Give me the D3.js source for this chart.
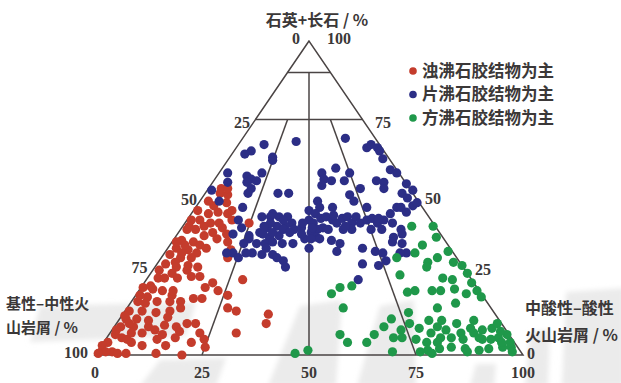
<!DOCTYPE html>
<html>
<head>
<meta charset="utf-8">
<script src="https://cdn.jsdelivr.net/npm/d3@7"></script>
<style>
  html, body { margin: 0; padding: 0; background: #ffffff; }
  svg { display: block; }
</style>
</head>
<body>
<svg id="chart" width="621" height="383"></svg>
<script>
// Each sample: [石英+长石 %, 中酸性-酸性火山岩屑 %]; 基性-中性火山岩屑 % = 100 - both.
const laumontiteSamples = [
  [51.5,3.5],[48.5,6.5],[45,4],[45.5,6],[45,8.5],[46,9],[46,1],[43,1],[43,3],[42,6],[40.5,9.5],[40,3.5],[40,1.5],
  [38,6.5],[36.5,2],[36,5],[35,7],[37,10],[34,2],[33.5,5],[32.5,7.5],[34,9],[32,1.5],[31,4.5],[31,7],[29,2],[28,5],
  [27,1.5],[26,5],[27,8],[28,10],[24.5,2.5],[24.5,4],[24.5,7],[25,10],[25,12],[21.5,15],[20.5,18.5],[24,22.5],
  [19,21.5],[15,23.5],[14,26],[7,29.5],[21.5,0.5],[21,3],[20.5,5.5],[19,8.5],[18.5,3],[17,1.5],[17,6],[17,9],
  [17,11.5],[18,14],[18,16],[14,1],[14,4],[13.5,7.5],[14,10.5],[15,12.5],[12,11],[11.5,1.5],[11.5,4],[10,16.5],
  [10,18.5],[9,1.5],[9,4.5],[9,8],[7,21],[6.5,12.5],[5.5,16],[5,12],[5.5,3.5],[6.5,1.5],[4,6.5],[3,9.5],[4,20.5],
  [2.5,24.5],[4,1],[1.5,1],[1,3.5],[3,15],[0.5,14],[0.5,7],[49,2],[41,1.5],[42,8],[36,1],[32.5,4],[38.5,11.5],
  [36,13],[33.5,15],[31,15.5],[42,15],[51,5.5],[53,3],[53,4.5],[43,10.5],[3,0.2],[1,2],[0.5,0.5],[5,5],[8,1],
  [12.5,0.7],[10,3],[7,5],[7,7.5],[8,10],[9,14.5],[5,23],[16.5,3.5],[19,1],[20.5,8],[23,16],[0.5,5],[0,20.3],
  [13,34],[10,35],[47.5,4],[41,5],[39,8],[35,3.5],[29.5,4],[11,7],[9.5,11.5],[7.5,16],[22,2],[28.5,7.5]
];
const heulanditeSamples = [
  [68,13],[65,4],[64,3],[67,6],[63,10],[62,10.5],[58,10],[58,2],[55,3.5],[57,7],[56,8.5],[55.5,10],[55,8],[53,10],
  [51.5,17],[51.5,19.5],[47,11],[44,17],[45,19],[44,19],[44,21],[44,23],[42,25],[41,24],[41,22],[40.5,20],[39,19],
  [38,17],[37.5,22],[38,24],[40,26.5],[46,27],[49,27.5],[47,29],[45,29],[43,28.5],[40.5,28],[42,30],[43.5,31],
  [44,32],[47,32],[43,34],[40.5,33],[40,32],[39,31],[37,30.5],[37.5,33],[37,34],[40,34.5],[42,35.5],[43.5,36],
  [44,37],[40,38],[42,39],[44,39],[42,41],[43,42],[43.5,43],[42,45],[43,46],[40,44.5],[40,47],[34,45.5],[58,24],
  [59.5,26.5],[56,25.5],[55.5,27.5],[54,26],[55.5,30.5],[58,30.5],[69,24],[51,34],[49,36],[53,35.5],[66,30.5],
  [67,31],[66,33],[65,34],[62.5,36],[59,39.5],[55.5,38],[55,40],[53,41],[58,41.5],[54.5,45.5],[52.5,48],[51.5,46],
  [50,48],[47,47],[47,48],[45.5,50],[47.5,50.5],[48.5,51],[45,46.5],[42,48.5],[40,51.5],[37.5,51],[35.5,54],
  [32.5,56.5],[33,49],[32.5,55],[42,20],[43,22.5],[38.5,20],[39,22],[40,24],[39,26],[35.5,20],[35.5,22],[36,23.5],
  [35.5,26],[35.5,28.5],[32.5,20.5],[32,23],[32,25.5],[30,29],[28,30.5],[42,27.5],[40.5,30.5],[44.5,33.5],[38.5,29],
  [37,32],[36.5,37],[35.5,39.5],[34,33],[33,40],[40,40],[41,38],[47,40],[43.5,44.5],[29,48],[28.5,52],[51.5,10],
  [52.5,1],[49,4.5],[43,12],[40.5,14],[38.5,13],[41,19],[37,17.5],[35.5,17],[32.5,16],[32.5,19],[31,18],[32.5,14.5],
  [31,27],[34,23],[24,49.5],[30,53],[32.5,51],[36,51.5],[38.5,52.5]
];
const analcimeSamples = [
  [41,58.5],[37.5,61],[35,59],[32.5,58.5],[31,55],[25.5,58.5],[29.5,63],[28,63.5],[31,64.5],[33,66],[29.5,69],
  [28.5,71.5],[24.5,69],[24,71.5],[21,73.5],[26,74],[23,76.5],[20.5,79],[18.5,81],[19.5,77],[20,63],[20.5,64.5],
  [20.5,68.5],[20.5,70.5],[16.5,76],[15,72.5],[19.5,45.5],[21.5,46.5],[22,49],[15,50.5],[13.5,66.5],[11.5,63.5],
  [9,63],[6.5,54],[4,57],[4,61.5],[6.5,62],[5.5,67],[1,69],[10,68.5],[8.5,71.5],[11,72.5],[7,75],[4,75.5],[9,75.5],
  [5.5,78],[8,78],[5.5,80.5],[10,79.5],[7,82],[5,83.5],[2,85.5],[7,85],[11,83],[5,88],[8.5,88.5],[10,89],[5.5,91.5],
  [6.5,93],[2.5,96],[2.5,94],[2,91],[1.5,89],[1,86.5],[2.5,82],[2,79.5],[1.5,77],[1,75.5],[5,72.5],[11,75.5],
  [8.5,83.5],[8,86.5],[7.5,91],[4,78],[5.5,87],[5,90],[4,93],[4,95],[1,97],[0.5,78.5],[8,67.5],[5.5,69],[41,53.5],
  [0.5,46.5],[1.5,49]
];

const seriesNames  = ["浊沸石胶结物为主", "片沸石胶结物为主", "方沸石胶结物为主"];
const seriesColors = ["#c43c2c", "#2c2e86", "#1f984a"];
const tickValues   = [0, 25, 50, 75, 100];
const topAxisTitle    = "石英+长石 / %";
const leftAxisTitle   = ["基性–中性火", "山岩屑 / %"];
const rightAxisTitle  = ["中酸性–酸性", "火山岩屑 / %"];

// Field boundaries of the classification diagram, as [石英+长石, 中酸性-酸性] pairs.
const frame      = [[100, 0], [0, 0], [0, 100], [100, 0]];
const fieldLines = [
  [[75, 0], [75, 25]],
  [[90, 0], [90, 10]],
  [[90, 5], [0, 50]],
  [[75, 7.5], [0, 25]],
  [[75, 17.5], [0, 75]]
];

const svg = d3.select("#chart");
const cjk = "'Noto Sans CJK SC', 'Noto Sans', sans-serif";
const num = "'Liberation Serif', 'DejaVu Serif', serif";
const ink = "#3b3838";

// Faint, soft backdrop shapes
const defs = svg.append("defs");
defs.append("filter").attr("id", "soft")
  .append("feGaussianBlur").attr("stdDeviation", 2.5);
const haze = svg.append("g").attr("fill", "#ebebeb").attr("filter", "url(#soft)");
[
  "M40,306 L196,302 L186,336 L30,342 Z",
  "M140,386 L160,360 L226,358 L216,386 Z",
  "M268,386 L300,306 L342,300 L336,386 Z",
  "M357,386 L380,306 L414,300 L416,386 Z",
  "M470,386 L476,364 L496,364 L494,386 Z",
  "M525,386 L530,332 L550,330 L548,386 Z",
  "M562,386 L566,292 L624,288 L624,386 Z"
].forEach(d => haze.append("path").attr("d", d));

// Ternary projection: bottom scale runs along the base, vertical scale follows 石英+长石.
const xScale = d3.scaleLinear().domain([0, 100]).range([95, 523]);
const yScale = d3.scaleLinear().domain([0, 100]).range([355, 41]);
const project = ([a, c]) => [xScale(c + a / 2), yScale(a)];
const path = d3.line().x(d => project(d)[0]).y(d => project(d)[1]);

const grid = svg.append("g").attr("fill", "none").attr("stroke", "#4a4444").attr("stroke-width", 1.5);
grid.append("path").attr("d", path(frame) + "Z").attr("stroke-linejoin", "miter");
fieldLines.forEach(seg => grid.append("path").attr("d", path(seg)));

// Sample points
const groups = [laumontiteSamples, heulanditeSamples, analcimeSamples];
groups.forEach((rows, i) => {
  svg.append("g").selectAll("circle").data(rows).join("circle")
    .attr("cx", d => project(d)[0])
    .attr("cy", d => project(d)[1])
    .attr("r", 4.6)
    .attr("fill", seriesColors[i]);
});

// Tick labels on the three sides
const leftNudge  = { 0: [-9, -3], 25: [-5.5, 2.5], 50: [-5, 1], 75: [-1, -9], 100: [-7, -3] };
const rightNudge = { 100: [18, -3], 75: [12.5, 2.5], 50: [9, 0], 25: [5.5, -7.5], 0: [4, -2] };
const tickText = svg.append("g")
  .attr("font-family", num).attr("font-weight", "bold").attr("font-size", 16).attr("fill", ink);

tickValues.forEach(t => {
  // left side: 基性-中性火山岩屑
  const [lx, ly] = project([100 - t, 0]);
  tickText.append("text").attr("x", lx + leftNudge[t][0]).attr("y", ly + leftNudge[t][1])
    .attr("dy", "0.35em").attr("text-anchor", "end").text(t);
  // right side: 石英+长石
  const [rx, ry] = project([t, 100 - t]);
  tickText.append("text").attr("x", rx + rightNudge[t][0]).attr("y", ry + rightNudge[t][1])
    .attr("dy", "0.35em").attr("text-anchor", "start").text(t);
  // base: 中酸性-酸性火山岩屑
  const [bx, by] = project([0, t]);
  tickText.append("text").attr("x", bx).attr("y", by + 17)
    .attr("dy", "0.35em").attr("text-anchor", "middle").text(t);
});

// Axis titles
const titles = svg.append("g")
  .attr("font-family", cjk).attr("font-weight", "bold").attr("fill", ink);
titles.append("text").attr("x", 317).attr("y", 20).attr("dy", "0.35em").attr("font-size", 16)
  .attr("text-anchor", "middle").text(topAxisTitle);
leftAxisTitle.forEach((s, i) => titles.append("text").attr("font-size", 15)
  .attr("x", 6).attr("y", 304 + i * 24).attr("dy", "0.35em").text(s));
rightAxisTitle.forEach((s, i) => titles.append("text").attr("font-size", 16)
  .attr("x", 525).attr("y", 308 + i * 27).attr("dy", "0.35em").text(s));

// Legend
const legend = svg.append("g").attr("transform", "translate(413,71)");
seriesNames.forEach((name, i) => {
  const row = legend.append("g").attr("transform", `translate(0,${i * 23.5})`);
  row.append("circle").attr("r", 3.8).attr("fill", seriesColors[i]);
  row.append("text").attr("x", 9).attr("dy", "0.35em")
    .attr("font-family", cjk).attr("font-weight", "bold").attr("font-size", 16.5)
    .attr("fill", ink).text(name);
});
</script>
</body>
</html>
